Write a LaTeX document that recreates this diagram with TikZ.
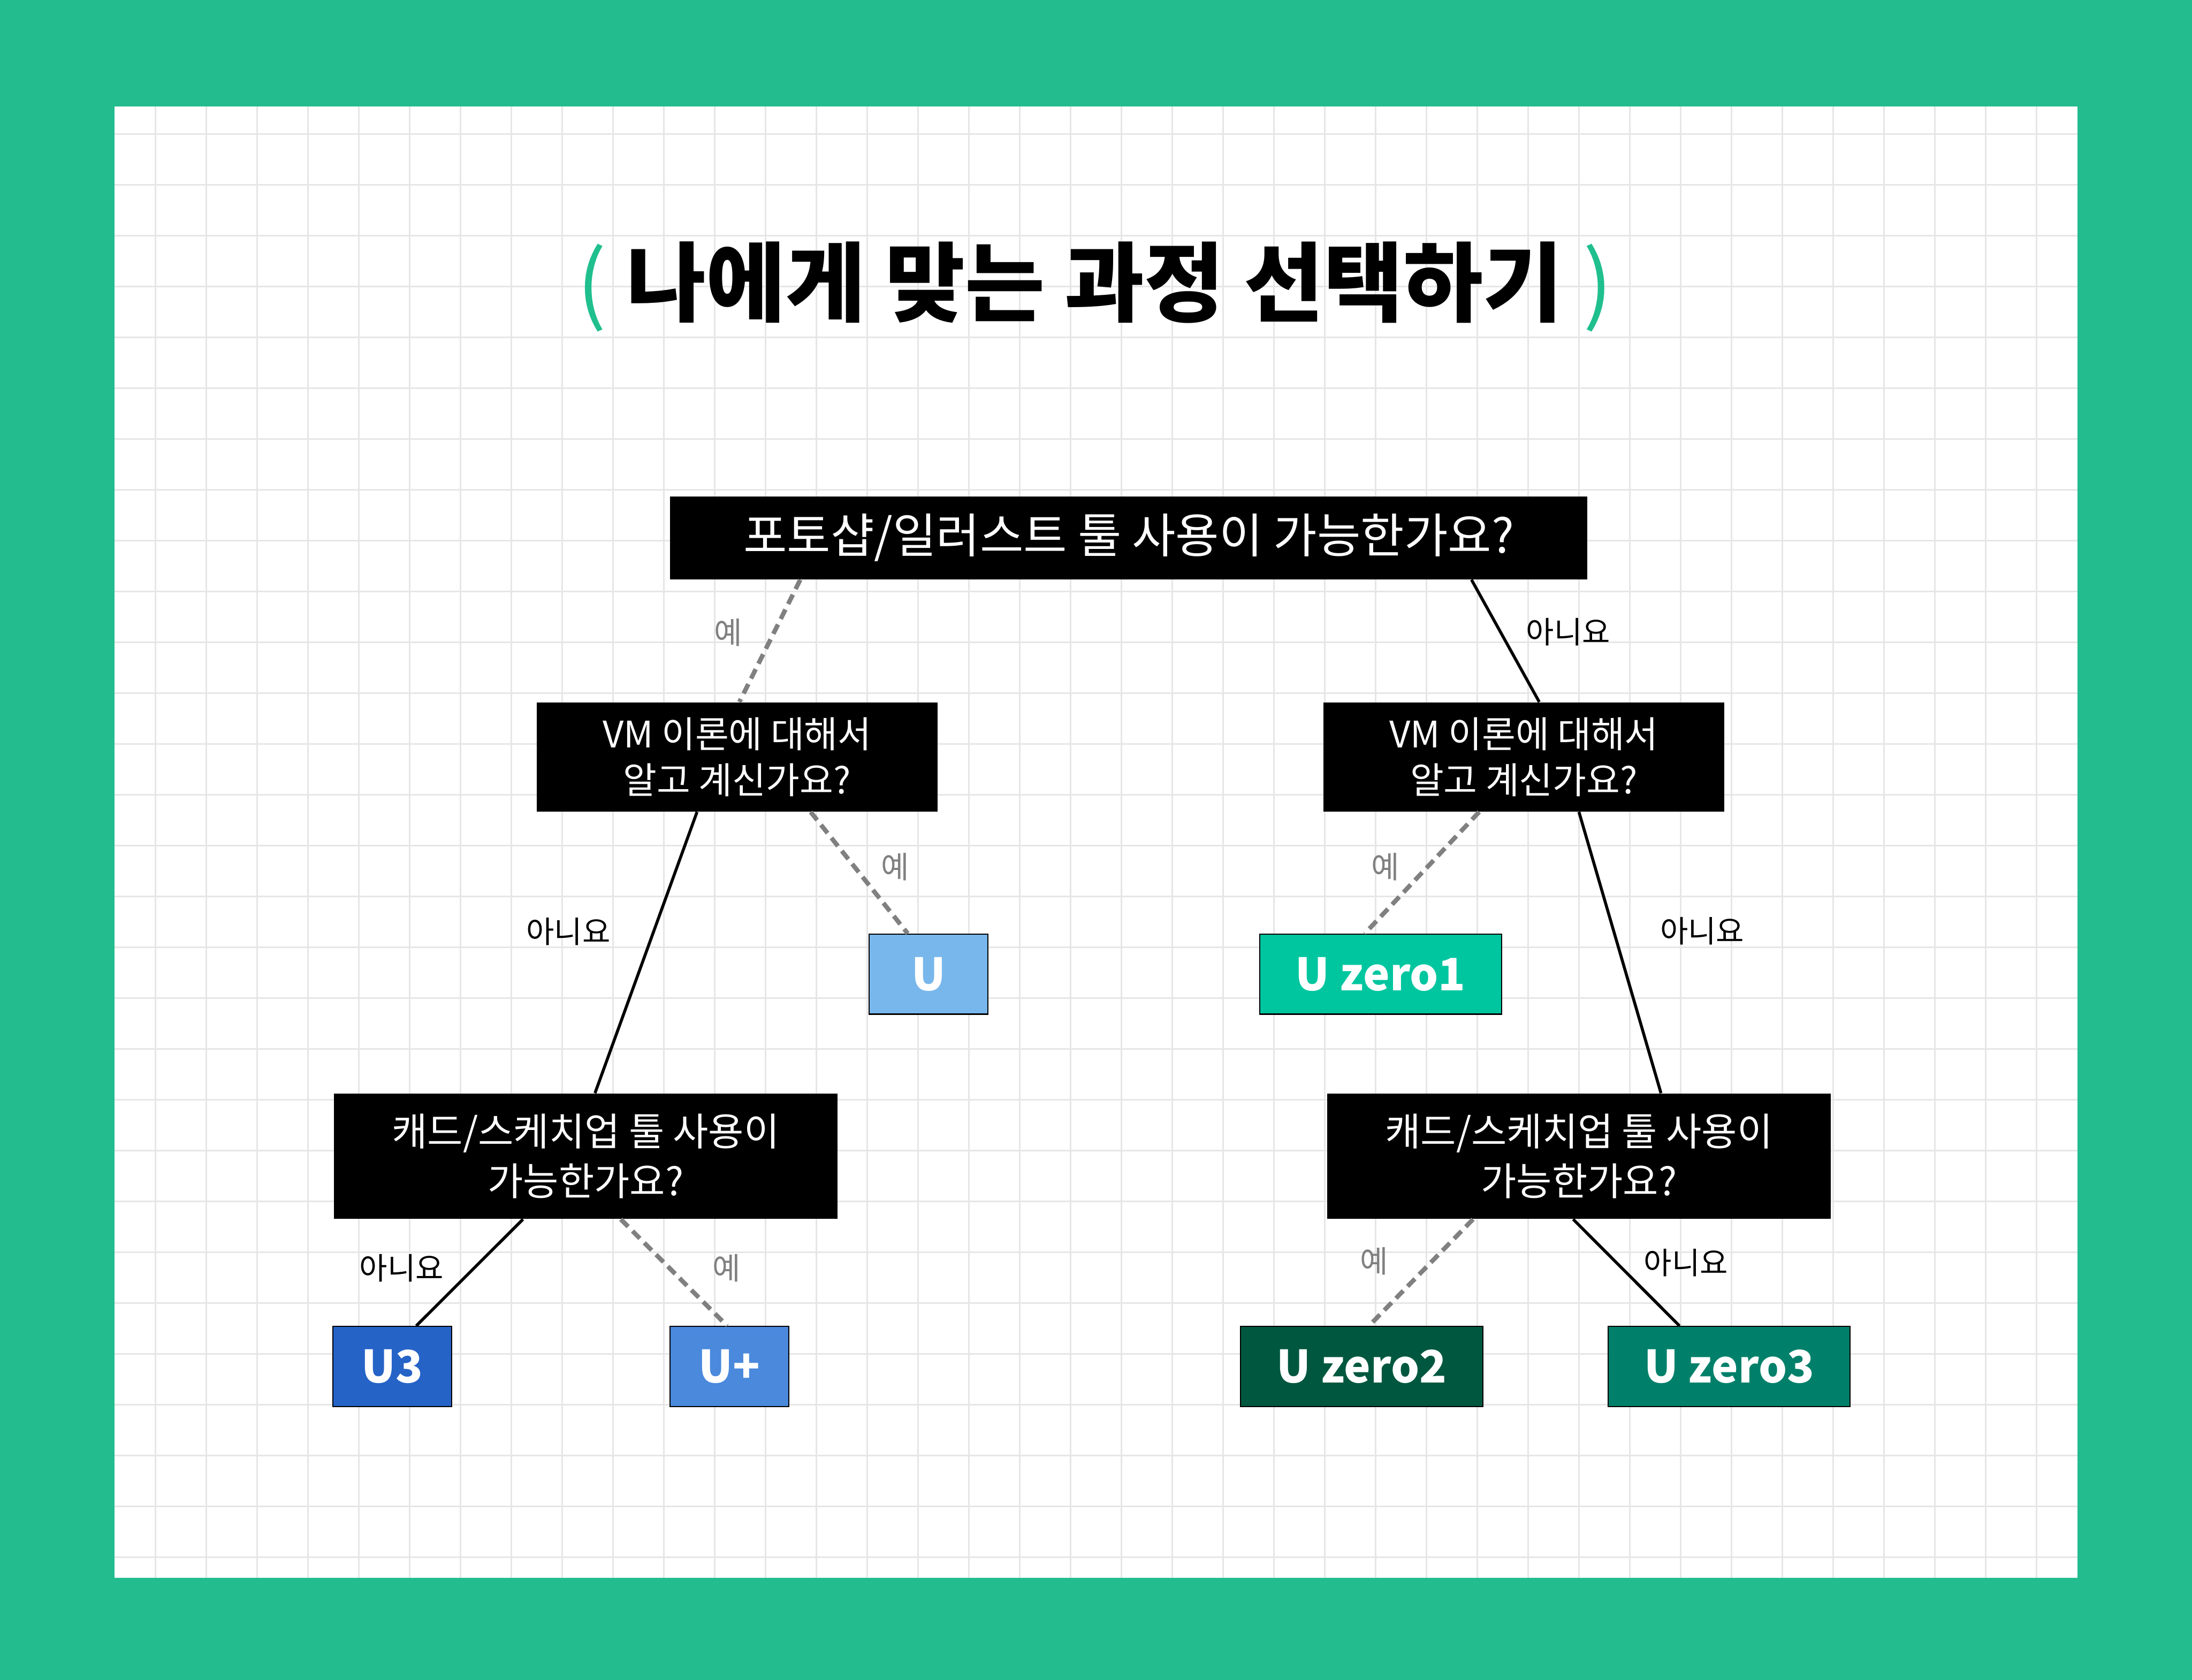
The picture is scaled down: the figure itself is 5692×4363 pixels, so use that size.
\documentclass[tikz,border=0pt]{standalone}
\usepackage{fontspec}
\setmainfont{Noto Sans CJK KR}
\usetikzlibrary{calc}
\definecolor{bggreen}{HTML}{22BC8F}
\definecolor{parengreen}{HTML}{1FBF8E}
\definecolor{gridgray}{HTML}{E6E6E6}
\definecolor{ucolor}{HTML}{78B7EC}
\definecolor{uthreecolor}{HTML}{2563C7}
\definecolor{upluscolor}{HTML}{4A89DC}
\definecolor{zeroonecolor}{HTML}{00C6A0}
\definecolor{zerotwocolor}{HTML}{00573F}
\definecolor{zerothreecolor}{HTML}{00806A}
\tikzstyle{question} = [rectangle, fill=black, text=white, align=center, inner sep=0pt]
\tikzstyle{course} = [rectangle, draw=black, line width=0.8pt, text=white, inner sep=0pt, minimum height=2.08cm, font=\fontsize{33}{40}\selectfont\bfseries]
\tikzstyle{yesline} = [draw=gray, line width=3.3pt, dash pattern=on 7.7pt off 4.6pt]
\tikzstyle{noline} = [draw=black, line width=2.2pt]
\tikzstyle{yeslabel} = [text=gray, inner sep=0pt, font=\fontsize{22.5}{26}\selectfont]
\tikzstyle{nolabel} = [text=black, inner sep=0pt, font=\fontsize{22.5}{26}\selectfont]
\tikzstyle{gridline} = [draw=gridgray, line width=1.1pt]

\begin{document}
\begin{tikzpicture}[x=0.01cm, y=-0.01cm]
\useasboundingbox (0,0) rectangle (5692,4363);
\fill[bggreen] (0,0) rectangle (5692,4363);
\fill[white] (298,276) rectangle (5394,4098);
\foreach \gx in {404,536,...,5394} \draw[gridline] (\gx,276) -- (\gx,4098);
\foreach \gy in {348,480,...,4098} \draw[gridline] (298,\gy) -- (5394,\gy);

\node (title) at (2843,745) [font=\fontsize{64}{74}\selectfont\bfseries] {{\mdseries\color{parengreen}(} 나에게 맞는 과정 선택하기 {\mdseries\color{parengreen})}};

% questions
\node (top) at (2931,1397) [question, minimum width=23.81cm, minimum height=2.16cm, font=\fontsize{35}{42}\selectfont] {포토샵/일러스트 툴 사용이 가능한가요?};
\node (vmL) at (1914,1966) [question, minimum width=10.41cm, minimum height=2.84cm, font=\fontsize{27}{34}\selectfont] {VM 이론에 대해서\\알고 계신가요?};
\node (vmR) at (3957,1966) [question, minimum width=10.40cm, minimum height=2.84cm, font=\fontsize{27}{34}\selectfont] {VM 이론에 대해서\\알고 계신가요?};
\node (cadL) at (1521,3003) [question, minimum width=13.08cm, minimum height=3.26cm, font=\fontsize{28.5}{37}\selectfont] {캐드/스케치업 툴 사용이\\가능한가요?};
\node (cadR) at (4100,3003) [question, minimum width=13.07cm, minimum height=3.26cm, font=\fontsize{28.5}{37}\selectfont] {캐드/스케치업 툴 사용이\\가능한가요?};

% courses
\node (u) at (2411,2530) [course, fill=ucolor, minimum width=3.09cm] {U};
\node (uzero1) at (3585,2530) [course, fill=zeroonecolor, minimum width=6.28cm] {U zero1};
\node (uthree) at (1019,3549) [course, fill=uthreecolor, minimum width=3.08cm] {U3};
\node (uplus) at (1894,3549) [course, fill=upluscolor, minimum width=3.08cm] {U+};
\node (uzero2) at (3536,3549) [course, fill=zerotwocolor, minimum width=6.28cm] {U zero2};
\node (uzero3) at (4490,3549) [course, fill=zerothreecolor, minimum width=6.28cm] {U zero3};

% branches
\draw [yesline] ($(top.south)+(-853,0)$) -- ($(vmL.north)+(6,0)$);
\draw [noline] ($(top.south)+(890,0)$) -- ($(vmR.north)+(40,0)$);
\draw [yesline] ($(vmL.south)+(191,0)$) -- ($(u.north)+(-54,0)$);
\draw [noline] ($(vmL.south)+(-104,0)$) -- ($(cadL.north)+(24,0)$);
\draw [yesline] ($(vmR.south)+(-116,0)$) -- ($(uzero1.north)+(-41,0)$);
\draw [noline] ($(vmR.south)+(143,0)$) -- ($(cadR.north)+(213,0)$);
\draw [noline] ($(cadL.south)+(-163,0)$) -- ($(uthree.north)+(62,0)$);
\draw [yesline] ($(cadL.south)+(91,0)$) -- ($(uplus.north)+(-6,0)$);
\draw [yesline] ($(cadR.south)+(-275,0)$) -- ($(uzero2.north)+(19,0)$);
\draw [noline] ($(cadR.south)+(-15,0)$) -- ($(uzero3.north)+(-129,0)$);

% labels
\node (yes1) at (1891,1643) [yeslabel] {예};
\node (no1) at (4072,1641) [nolabel] {아니요};
\node (yes2) at (2324,2252) [yeslabel] {예};
\node (no2) at (1476,2419) [nolabel] {아니요};
\node (yes3) at (3598,2252) [yeslabel] {예};
\node (no3) at (4420,2418) [nolabel] {아니요};
\node (no4) at (1043,3293) [nolabel] {아니요};
\node (yes4) at (1887,3293) [yeslabel] {예};
\node (yes5) at (3568,3275) [yeslabel] {예};
\node (no5) at (4378,3280) [nolabel] {아니요};
\end{tikzpicture}
\end{document}
